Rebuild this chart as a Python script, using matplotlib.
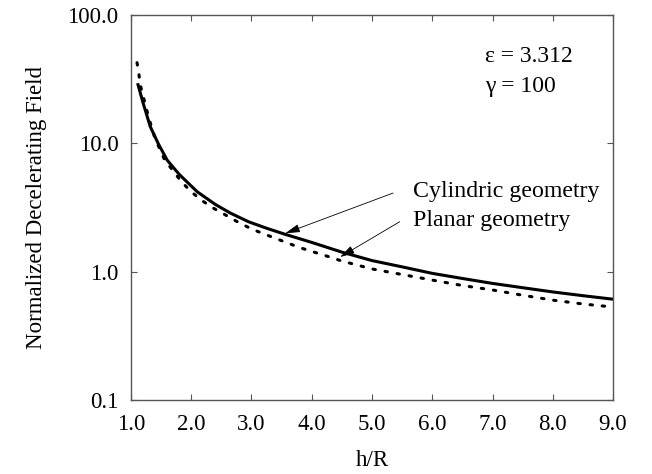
import numpy as np
import matplotlib
matplotlib.use("Agg")
import matplotlib.pyplot as plt
from matplotlib.ticker import FixedLocator, FixedFormatter, NullLocator

plt.rcParams["font.family"] = ["Liberation Serif", "DejaVu Serif"]

# solid curve: cylindric geometry
cyl_x = [1.11, 1.2, 1.32, 1.45, 1.6, 1.8, 2.1, 2.4, 2.65, 2.95, 3.25, 3.55,
         4.0, 4.5, 5.0, 5.5, 6.0, 6.5, 7.0, 7.5, 8.0, 8.5, 9.0]
cyl_y = [29.4, 20.7, 13.5, 10.0, 7.4, 5.73, 4.19, 3.34, 2.86, 2.45, 2.18, 1.96,
         1.69, 1.42, 1.22, 1.09, 0.97, 0.885, 0.81, 0.75, 0.695, 0.65, 0.61]

# dotted curve: planar geometry
pla_x = [1.10, 1.13, 1.15, 1.29, 1.40, 1.56, 1.70, 1.84, 2.01, 2.19, 2.37,
         2.56, 2.73, 3.0, 3.28, 3.80, 4.30, 4.50, 5.0, 5.5, 6.0, 6.5, 7.0,
         7.5, 8.0, 8.5, 9.0]
pla_y = [42.5, 35.2, 29.0, 16.1, 10.9, 7.4, 6.1, 5.0, 4.15, 3.55, 3.12,
         2.78, 2.50, 2.15, 1.91, 1.54, 1.30, 1.21, 1.05, 0.95, 0.86, 0.78,
         0.72, 0.655, 0.60, 0.56, 0.53]

x_ticks = [1, 2, 3, 4, 5, 6, 7, 8, 9]
x_labels = ["1.0", "2.0", "3.0", "4.0", "5.0", "6.0", "7.0", "8.0", "9.0"]
y_ticks = [0.1, 1, 10, 100]
y_labels = ["0.1", "1.0", "10.0", "100.0"]

fig = plt.figure(figsize=(6.52, 4.74), dpi=100)
ax = fig.add_axes([0.2009, 0.1561, 0.7393, 0.8123])

ax.plot(cyl_x, cyl_y, color="black", lw=2.2, solid_capstyle="butt")
ax.plot(pla_x, pla_y, color="black", lw=2.2, linestyle=(0, (0.8, 3.2)),
        dash_capstyle="round")

ax.set_yscale("log")
ax.set_xlim(1, 9)
ax.set_ylim(0.1, 100)
ax.xaxis.set_major_locator(FixedLocator(x_ticks))
ax.xaxis.set_major_formatter(FixedFormatter(x_labels))
ax.yaxis.set_major_locator(FixedLocator(y_ticks))
ax.yaxis.set_major_formatter(FixedFormatter(y_labels))
ax.yaxis.set_minor_locator(NullLocator())
ax.xaxis.set_minor_locator(NullLocator())

ax.tick_params(direction="in", length=4, width=0.8, color="#555",
               top=True, right=True, labelsize=16.5, labelcolor="black")
ax.tick_params(axis="x", pad=10)
ax.tick_params(axis="y", pad=9)
for sp in ax.spines.values():
    sp.set_color("#555")
    sp.set_linewidth(1.0)

ax.set_xlabel("h/R", fontsize=16.5, labelpad=11)
ax.set_ylabel("Normalized Decelerating Field", fontsize=16.5, labelpad=15)

ax.text(0.734, 0.891, "\u03b5 = 3.312", transform=ax.transAxes, fontsize=17,
        va="center", ha="left")
ax.text(0.734, 0.813, "\u03b3 = 100", transform=ax.transAxes, fontsize=17,
        va="center", ha="left")

arrow = dict(arrowstyle="-|>,head_length=0.9,head_width=0.25", color="black",
             lw=0.6, shrinkA=0, shrinkB=0)
ax.annotate("", xy=(3.56, 1.99), xytext=(5.35, 4.1), arrowprops=arrow)
ax.annotate("", xy=(4.47, 1.30), xytext=(5.46, 2.45), arrowprops=arrow)
ax.text(5.68, 4.2, "Cylindric geometry", fontsize=17.2, va="center", ha="left")
ax.text(5.68, 2.5, "Planar geometry", fontsize=17.2, va="center", ha="left")

fig.savefig("out.png", dpi=100)
